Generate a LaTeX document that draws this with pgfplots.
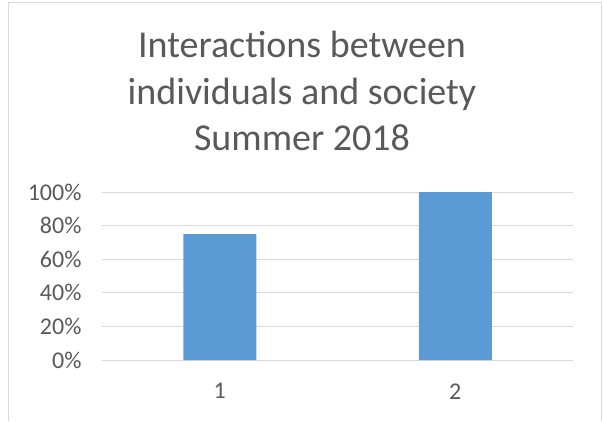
\documentclass[border=0pt]{standalone}
\usepackage{pgfplots}
\pgfplotsset{compat=1.18}
\usepackage{fontspec}
\setmainfont{Carlito}
\definecolor{barblue}{HTML}{5B9BD5}
\definecolor{txtgray}{HTML}{595959}
\definecolor{gridgray}{HTML}{D9D9D9}
\begin{document}
\begin{tikzpicture}
\path[use as bounding box] (0pt,0pt) rectangle (604pt,-421pt);
\draw[gridgray, line width=1.2pt] (8.5pt,-421pt) -- (8.5pt,-2.5pt) -- (601.5pt,-2.5pt) -- (601.5pt,-421pt);
\node[text=txtgray, font=\fontsize{38}{46.5}\selectfont, align=center, anchor=north] at (302pt,-28pt) {Interactions between\\individuals and society\\Summer 2018};
\begin{axis}[
  at={(102pt,-360pt)}, anchor=south west,
  scale only axis, width=471pt, height=168pt,
  xmin=0.5, xmax=2.5, ymin=0, ymax=1,
  ybar, bar width=73pt,
  xtick={1,2}, ytick={0,0.2,0.4,0.6,0.8,1},
  yticklabels={0\%,20\%,40\%,60\%,80\%,100\%},
  ymajorgrids, grid style={gridgray, line width=1pt},
  axis line style={draw=none},
  major tick length=0pt,
  tick label style={text=txtgray, font=\fontsize{24}{30}\selectfont},
  /pgf/number format/assume math mode=true,
  xticklabel style={yshift=-20pt},
  yticklabel style={xshift=-17pt},
  clip=false,
]
\draw[gridgray, line width=1pt] (axis cs:0.5,0) -- (axis cs:2.5,0);
\addplot[fill=barblue, draw=none] coordinates {(1,0.75) (2,1.0)};
\end{axis}
\end{tikzpicture}
\end{document}
